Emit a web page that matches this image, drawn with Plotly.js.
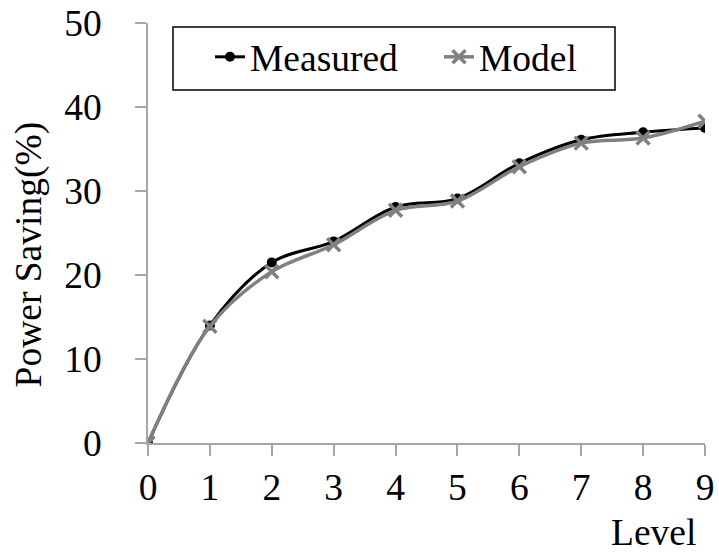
<!DOCTYPE html>
<html>
<head>
<meta charset="utf-8">
<script src="https://cdn.plot.ly/plotly-3.0.1.min.js"></script>
<style>
  html, body { margin: 0; padding: 0; background: #fff; }
  #chart { width: 719px; height: 557px; }
</style>
</head>
<body>
<div id="chart"></div>
<script>
const levels = [0, 1, 2, 3, 4, 5, 6, 7, 8, 9];
const measured = [0, 14.0, 21.5, 24.0, 28.1, 29.1, 33.3, 36.1, 37.0, 37.5];
const model = [0, 13.9, 20.4, 23.6, 27.7, 28.8, 32.9, 35.7, 36.3, 38.3];
const seriesNames = ['Measured', 'Model'];
const xTitle = 'Level';
const yTitle = 'Power Saving(%)';

const FONT = 'Liberation Serif, Times New Roman, serif';
const FS = 37.5;

const traces = [
  {
    x: levels, y: measured, name: seriesNames[0], type: 'scatter', mode: 'lines+markers',
    line: { color: '#000000', width: 3, shape: 'spline', smoothing: 1 },
    marker: { symbol: 'circle', size: 10, color: '#000000' }
  },
  {
    x: levels, y: model, name: seriesNames[1], type: 'scatter', mode: 'lines+markers',
    line: { color: '#808080', width: 3.5, shape: 'spline', smoothing: 1 },
    marker: { symbol: 'x-thin', size: 13, color: '#808080', line: { color: '#808080', width: 3.5 } }
  }
];

const axisCommon = {
  showgrid: false, zeroline: false, showline: true,
  linecolor: '#a6a6a6', linewidth: 1.5,
  ticks: 'outside', ticklen: 11, tickwidth: 1.5, tickcolor: '#a6a6a6',
  tickfont: { family: FONT, size: FS, color: '#000' }
};

const layout = {
  width: 719, height: 557,
  margin: { l: 148, r: 14, t: 23, b: 114 },
  paper_bgcolor: '#ffffff', plot_bgcolor: '#ffffff',
  font: { family: FONT, color: '#000' },
  showlegend: true,
  legend: {
    orientation: 'h', x: 0.1113, y: 0.993, xanchor: 'left', yanchor: 'top',
    bgcolor: 'rgba(0,0,0,0)', borderwidth: 0,
    font: { family: FONT, size: FS, color: '#000' },
    entrywidth: 184, entrywidthmode: 'pixels'
  },
  xaxis: Object.assign({}, axisCommon, {
    range: [0, 9], tickmode: 'linear', tick0: 0, dtick: 1,
    ticklabelstandoff: -1
  }),
  yaxis: Object.assign({}, axisCommon, {
    range: [0, 50], tickmode: 'linear', tick0: 0, dtick: 10,
    ticklabelstandoff: 26
  }),
  shapes: [
    { type: 'rect', xref: 'paper', yref: 'paper',
      x0: (173 - 148) / 557, x1: (615 - 148) / 557,
      y0: (443 - 90) / 420, y1: (443 - 27) / 420,
      line: { color: '#000000', width: 1.5 }, fillcolor: 'rgba(0,0,0,0)', layer: 'above' }
  ],
  annotations: [
    { text: xTitle, xref: 'paper', yref: 'paper', x: 0.9075, y: -0.212,
      xanchor: 'center', yanchor: 'middle', showarrow: false,
      font: { family: FONT, size: FS, color: '#000' } },
    { text: yTitle, xref: 'paper', yref: 'paper', x: -0.2136, y: 0.449,
      xanchor: 'center', yanchor: 'middle', showarrow: false, textangle: -90,
      font: { family: FONT, size: FS, color: '#000' } }
  ]
};

Plotly.newPlot('chart', traces, layout, { displayModeBar: false, responsive: false });
</script>
</body>
</html>
